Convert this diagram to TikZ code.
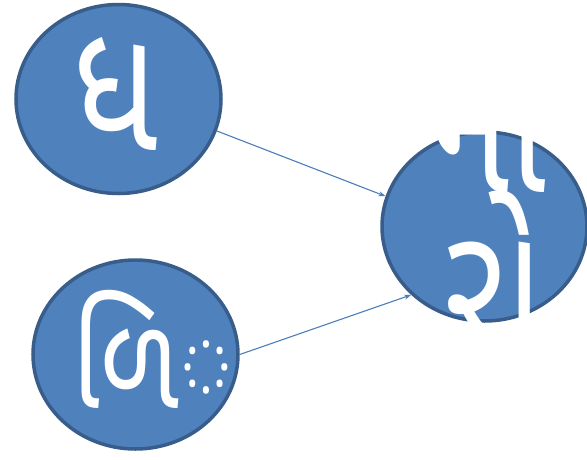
\documentclass[tikz,border=0pt]{standalone}
\usepackage{fontspec}
\newfontfamily\guj[Script=Gujarati,FakeStretch=0.8]{Noto Sans Gujarati UI}
\usetikzlibrary{shapes.geometric,arrows.meta}
\definecolor{bubblefill}{HTML}{4F81BD}
\definecolor{bubbleline}{HTML}{385D8A}
\definecolor{linkline}{HTML}{4A7EBB}
\begin{document}
\begin{tikzpicture}[x=1pt,y=-1pt,
    bubble/.style={ellipse, draw=bubbleline, fill=bubblefill, line width=3.5pt, minimum width=205pt, minimum height=189pt, inner sep=0pt},
    glyph/.style={text=white, inner sep=0pt, font=\guj\fontsize{175}{175}\selectfont},
    link/.style={-{Stealth[length=7pt,width=5pt]}, draw=linkline, line width=1.1pt}]
    \useasboundingbox (0,0) rectangle (587,459);

    \node[bubble] at (118.5, 99)  (dha)  {};
    \node[bubble] at (135.5, 354.5) (lli) {};
    \node[bubble] at (484.5, 226.5) (naro) {};

    \node[glyph, anchor=base] at (116, 150) (dhatext) {ધ};
    \begin{scope}
        \clip (30, 258) rectangle (241, 451);
        \node[glyph, font=\guj\fontsize{132}{132}\selectfont, anchor=base west] at (72, 408) (llitext) {ળિ◌};
    \end{scope}

    \begin{scope}
        \clip (382, 130) rectangle (587, 323);
        \node[glyph, anchor=base] at (490, 192) (natext) {ના};
        \node[glyph, anchor=base] at (494, 347) (rotext) {રો};
    \end{scope}

    \draw[link] (dha.342) -- (naro.163);
    \draw[link] (lli.east) -- (naro.223);
\end{tikzpicture}
\end{document}
